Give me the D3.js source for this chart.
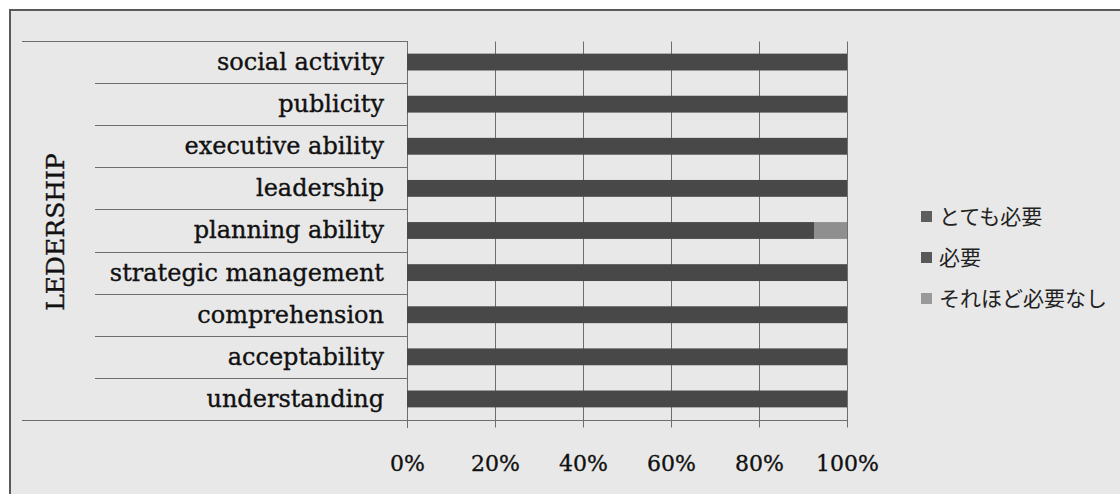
<!DOCTYPE html>
<html>
<head>
<meta charset="utf-8">
<script src="https://cdn.jsdelivr.net/npm/d3@7"></script>
<style>
  body { margin: 0; background: #fff; }
  svg { display: block; }
  .cat { font-family: "DejaVu Serif", serif; font-size: 24px; fill: #111; stroke: #111; stroke-width: 0.35px; }
  .tick text { font-family: "DejaVu Serif", serif; font-size: 22px; fill: #111; stroke: #111; stroke-width: 0.35px; }
  .leg { font-family: "Noto Sans CJK JP", sans-serif; font-size: 21px; fill: #222; }
</style>
</head>
<body>
<svg id="chart" width="1120" height="494"></svg>
<script>
// categories top to bottom
var categories = ["social activity", "publicity", "executive ability", "leadership",
    "planning ability", "strategic management", "comprehension", "acceptability", "understanding"];
var seriesNames = ["とても必要", "必要", "それほど必要なし"];
var veryNeeded = [100, 100, 100, 100, 92.5, 100, 100, 100, 100];
var needed = [0, 0, 0, 0, 0, 0, 0, 0, 0];
var notSoNeeded = [0, 0, 0, 0, 7.5, 0, 0, 0, 0];
var tickValues = [0, 20, 40, 60, 80, 100];
var axisTitle = "LEDERSHIP";

var colors = ["#484848", "#555555", "#8f8f8f"];
var swatchColors = ["#5e5e5e", "#585858", "#999999"];

var svg = d3.select("#chart");

// chart area background + border
svg.append("rect")
    .attr("x", 10).attr("y", 10)
    .attr("width", 1130).attr("height", 500)
    .attr("fill", "#e8e8e8")
    .attr("stroke", "#5a5a5a").attr("stroke-width", 2);

var x = d3.scaleLinear().domain([0, 100]).range([407, 847]);
var y = d3.scaleBand().domain(categories).range([41, 420])
    .paddingInner(0.6).paddingOuter(0.3);

// table rows for category labels
var step = y.step();
var bounds = d3.range(categories.length + 1).map(function (i) { return 41 + i * step; });
svg.append("g").selectAll("line")
    .data(bounds)
    .enter()
    .append("line")
    .attr("x1", function (d, i) { return (i == 0 || i == categories.length) ? 22 : 95; })
    .attr("x2", 407)
    .attr("y1", function (d) { return Math.round(d) + 0.5; })
    .attr("y2", function (d) { return Math.round(d) + 0.5; })
    .attr("stroke", "#6e6e6e").attr("stroke-width", 1);

// vertical gridlines / x axis
var xAxis = d3.axisBottom(x)
    .tickValues(tickValues)
    .tickFormat(function (d) { return d + "%"; })
    .tickSize(-(420 - 41))
    .tickPadding(30);
var gx = svg.append("g")
    .attr("transform", "translate(0,420.5)")
    .call(xAxis);
gx.select(".domain").attr("stroke", "#6e6e6e").attr("d", "M407,0H847");
gx.selectAll(".tick line").attr("stroke", "#6e6e6e").attr("y2", 7).attr("y1", -(420 - 41));
gx.selectAll(".tick text").attr("dy", "0.35em").attr("y", 43);

// y axis line
svg.append("line")
    .attr("x1", 407.5).attr("x2", 407.5)
    .attr("y1", 41).attr("y2", 428)
    .attr("stroke", "#6e6e6e");

// stacked bars
var rows = categories.map(function (c, i) {
    return { cat: c, s0: veryNeeded[i], s1: needed[i], s2: notSoNeeded[i] };
});
var stack = d3.stack().keys(["s0", "s1", "s2"]);
var layers = stack(rows);

svg.append("g").selectAll("g")
    .data(layers)
    .enter()
    .append("g")
    .attr("fill", function (d, i) { return colors[i]; })
    .selectAll("rect")
    .data(function (d) { return d; })
    .enter()
    .append("rect")
    .attr("x", function (d) { return x(d[0]); })
    .attr("y", function (d) { return y(d.data.cat); })
    .attr("width", function (d) { return x(d[1]) - x(d[0]); })
    .attr("height", y.bandwidth());

// category labels
svg.append("g").selectAll("text")
    .data(categories)
    .enter()
    .append("text")
    .attr("class", "cat")
    .attr("x", 384)
    .attr("y", function (d) { return y(d) + y.bandwidth() / 2; })
    .attr("dy", "0.33em")
    .attr("text-anchor", "end")
    .text(function (d) { return d; });

// axis title
svg.append("text")
    .attr("class", "cat")
    .attr("transform", "translate(64,232) rotate(-90)")
    .attr("text-anchor", "middle")
    .style("font-size", "25px")
    .text(axisTitle);

// legend
var leg = svg.append("g").selectAll("g")
    .data(seriesNames)
    .enter()
    .append("g")
    .attr("transform", function (d, i) { return "translate(921," + (217 + i * 41) + ")"; });
leg.append("rect")
    .attr("x", 0).attr("y", -6)
    .attr("width", 11).attr("height", 11)
    .attr("fill", function (d, i) { return swatchColors[i]; });
leg.append("text")
    .attr("class", "leg")
    .attr("x", 18)
    .attr("dy", "0.35em")
    .text(function (d) { return d; });
</script>
</body>
</html>
